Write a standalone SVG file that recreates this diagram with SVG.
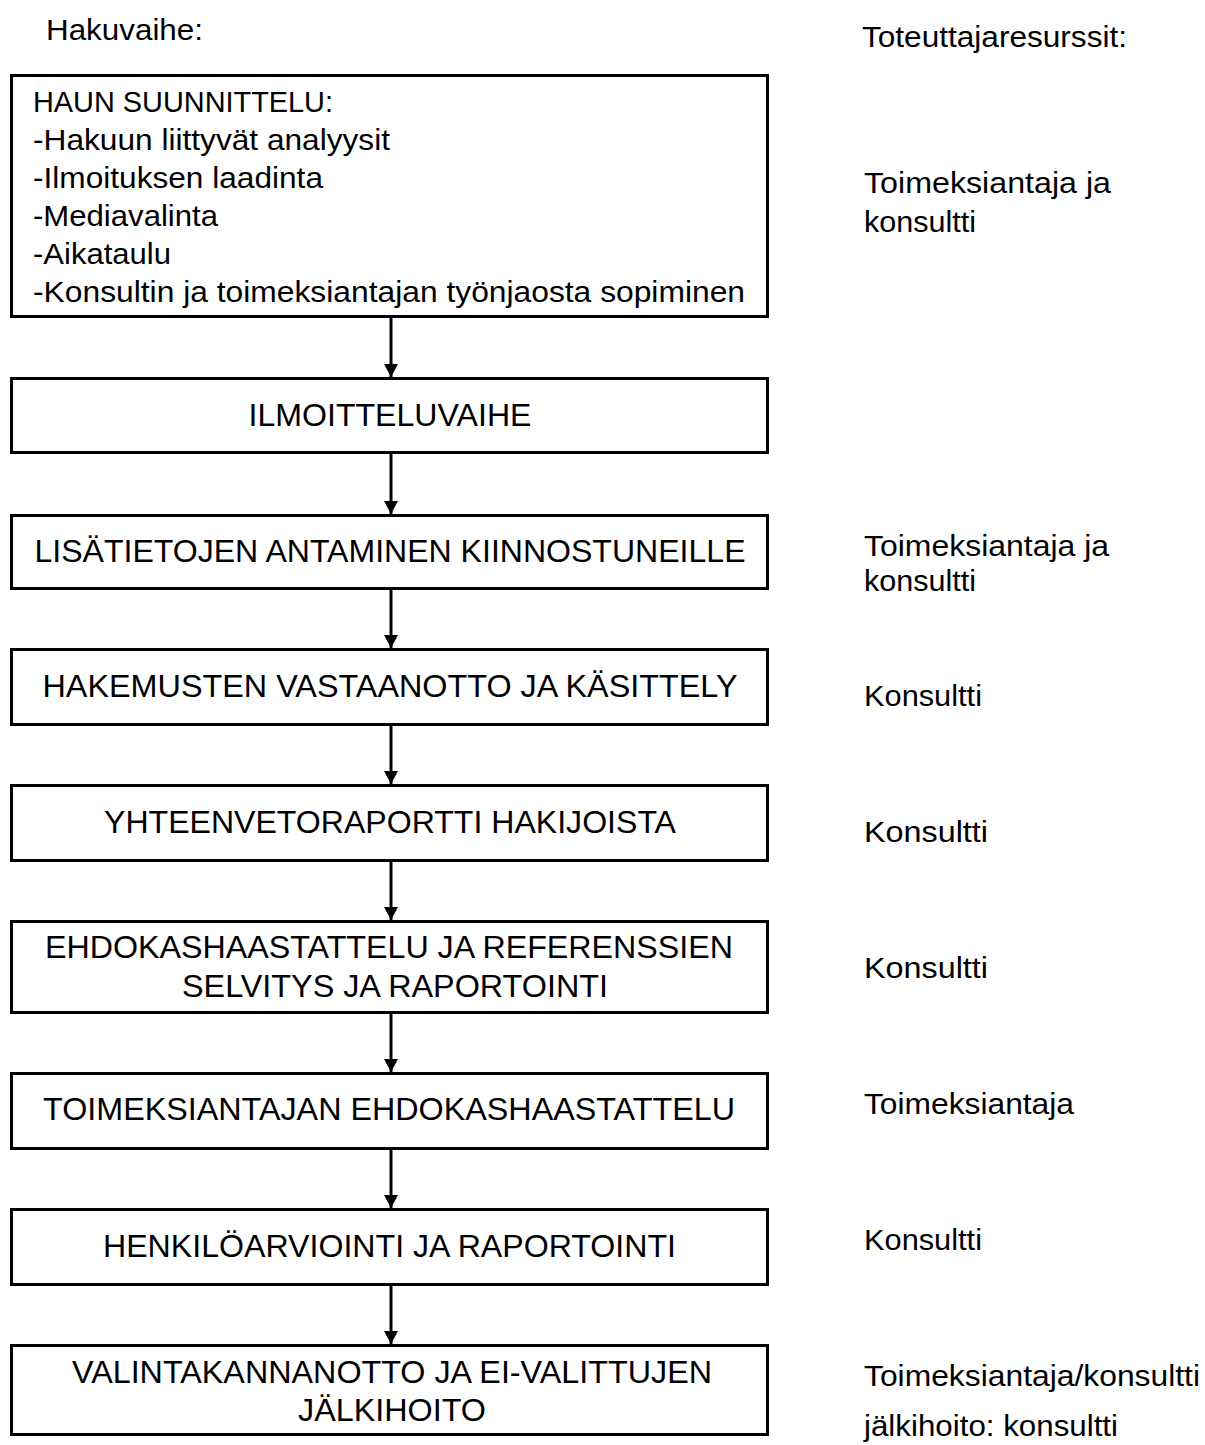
<svg xmlns="http://www.w3.org/2000/svg" width="1205" height="1445" viewBox="0 0 1205 1445">
<style>
text{font-family:"Liberation Sans",Arial,sans-serif;fill:#000}
.hd{font-size:30px}
.tb{font-size:29px}
.cap{font-size:32px;text-anchor:middle}
.rs{font-size:30px}
.box{fill:#fff;stroke:#000;stroke-width:3}
.con{stroke:#000;stroke-width:3;fill:none}
</style>
<defs>
<marker id="ah" markerUnits="userSpaceOnUse" markerWidth="14" markerHeight="16" refX="13" refY="7" orient="auto">
<path d="M0,0 L13,7 L0,14 Z" fill="#000"/>
</marker>
</defs>
<rect width="1205" height="1445" fill="#fff"/>
<text class="hd" x="46" y="40" textLength="157" lengthAdjust="spacingAndGlyphs">Hakuvaihe:</text>
<text class="hd" x="862" y="47" textLength="265" lengthAdjust="spacingAndGlyphs">Toteuttajaresurssit:</text>

<g id="connectors">
<line class="con" x1="391" y1="316" x2="391" y2="377" marker-end="url(#ah)"/>
<line class="con" x1="391" y1="452" x2="391" y2="514" marker-end="url(#ah)"/>
<line class="con" x1="391" y1="588" x2="391" y2="648" marker-end="url(#ah)"/>
<line class="con" x1="391" y1="724" x2="391" y2="784" marker-end="url(#ah)"/>
<line class="con" x1="391" y1="860" x2="391" y2="920" marker-end="url(#ah)"/>
<line class="con" x1="391" y1="1012" x2="391" y2="1072" marker-end="url(#ah)"/>
<line class="con" x1="391" y1="1148" x2="391" y2="1208" marker-end="url(#ah)"/>
<line class="con" x1="391" y1="1284" x2="391" y2="1344" marker-end="url(#ah)"/>
</g>

<g id="n1">
<rect class="box" x="11.5" y="75.5" width="756" height="241"/>
<text class="tb" x="33" y="112" textLength="300" lengthAdjust="spacingAndGlyphs">HAUN SUUNNITTELU:</text>
<text class="tb" x="33" y="150" textLength="357" lengthAdjust="spacingAndGlyphs">-Hakuun liittyvät analyysit</text>
<text class="tb" x="33" y="188" textLength="290" lengthAdjust="spacingAndGlyphs">-Ilmoituksen laadinta</text>
<text class="tb" x="33" y="226" textLength="185" lengthAdjust="spacingAndGlyphs">-Mediavalinta</text>
<text class="tb" x="33" y="264" textLength="138" lengthAdjust="spacingAndGlyphs">-Aikataulu</text>
<text class="tb" x="33" y="302" textLength="712" lengthAdjust="spacingAndGlyphs">-Konsultin ja toimeksiantajan työnjaosta sopiminen</text>
</g>
<g id="n1r">
<text class="rs" x="864" y="193" textLength="247" lengthAdjust="spacingAndGlyphs">Toimeksiantaja ja</text>
<text class="rs" x="864" y="232" textLength="112" lengthAdjust="spacingAndGlyphs">konsultti</text>
</g>

<g id="n2">
<rect class="box" x="11.5" y="378.5" width="756" height="74"/>
<text class="cap" x="390" y="426" textLength="283" lengthAdjust="spacingAndGlyphs">ILMOITTELUVAIHE</text>
</g>

<g id="n3">
<rect class="box" x="11.5" y="515.5" width="756" height="73"/>
<text class="cap" x="390" y="562" textLength="711" lengthAdjust="spacingAndGlyphs">LISÄTIETOJEN ANTAMINEN KIINNOSTUNEILLE</text>
</g>
<g id="n3r">
<text class="rs" x="864" y="556" textLength="245" lengthAdjust="spacingAndGlyphs">Toimeksiantaja ja</text>
<text class="rs" x="864" y="591" textLength="112" lengthAdjust="spacingAndGlyphs">konsultti</text>
</g>

<g id="n4">
<rect class="box" x="11.5" y="649.5" width="756" height="75"/>
<text class="cap" x="390" y="697" textLength="695" lengthAdjust="spacingAndGlyphs">HAKEMUSTEN VASTAANOTTO JA KÄSITTELY</text>
</g>
<text id="n4r" class="rs" x="864" y="706" textLength="118" lengthAdjust="spacingAndGlyphs">Konsultti</text>

<g id="n5">
<rect class="box" x="11.5" y="785.5" width="756" height="75"/>
<text class="cap" x="390" y="833" textLength="572" lengthAdjust="spacingAndGlyphs">YHTEENVETORAPORTTI HAKIJOISTA</text>
</g>
<text id="n5r" class="rs" x="864" y="842" textLength="124" lengthAdjust="spacingAndGlyphs">Konsultti</text>

<g id="n6">
<rect class="box" x="11.5" y="921.5" width="756" height="91"/>
<text class="cap" x="389" y="958" textLength="688" lengthAdjust="spacingAndGlyphs">EHDOKASHAASTATTELU JA REFERENSSIEN</text>
<text class="cap" x="395" y="997" textLength="426" lengthAdjust="spacingAndGlyphs">SELVITYS JA RAPORTOINTI</text>
</g>
<text id="n6r" class="rs" x="864" y="978" textLength="124" lengthAdjust="spacingAndGlyphs">Konsultti</text>

<g id="n7">
<rect class="box" x="11.5" y="1073.5" width="756" height="75"/>
<text class="cap" x="389" y="1120" textLength="692" lengthAdjust="spacingAndGlyphs">TOIMEKSIANTAJAN EHDOKASHAASTATTELU</text>
</g>
<text id="n7r" class="rs" x="864" y="1114" textLength="210" lengthAdjust="spacingAndGlyphs">Toimeksiantaja</text>

<g id="n8">
<rect class="box" x="11.5" y="1209.5" width="756" height="75"/>
<text class="cap" x="389.5" y="1257" textLength="573" lengthAdjust="spacingAndGlyphs">HENKILÖARVIOINTI JA RAPORTOINTI</text>
</g>
<text id="n8r" class="rs" x="864" y="1250" textLength="118" lengthAdjust="spacingAndGlyphs">Konsultti</text>

<g id="n9">
<rect class="box" x="11.5" y="1345.5" width="756" height="89"/>
<text class="cap" x="392" y="1383" textLength="640" lengthAdjust="spacingAndGlyphs">VALINTAKANNANOTTO JA EI-VALITTUJEN</text>
<text class="cap" x="392" y="1421" textLength="188" lengthAdjust="spacingAndGlyphs">JÄLKIHOITO</text>
</g>
<g id="n9r">
<text class="rs" x="864" y="1386" textLength="336" lengthAdjust="spacingAndGlyphs">Toimeksiantaja/konsultti</text>
<text class="rs" x="864" y="1436" textLength="254" lengthAdjust="spacingAndGlyphs">jälkihoito: konsultti</text>
</g>
</svg>
